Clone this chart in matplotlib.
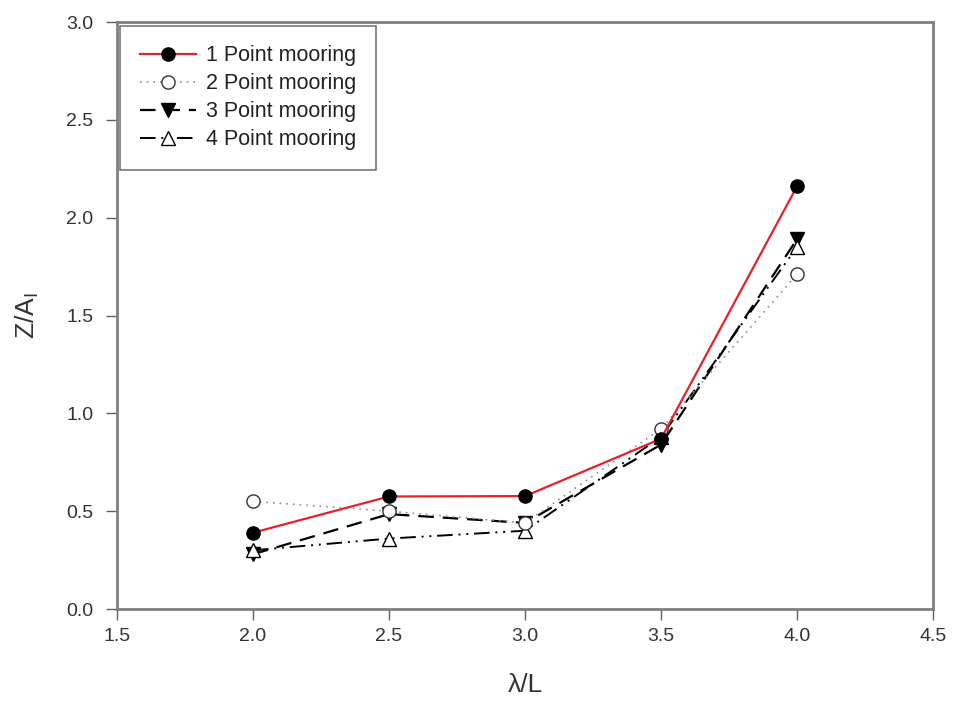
import matplotlib
matplotlib.use("Agg")
import matplotlib.pyplot as plt

plt.rcParams['font.family'] = ['Liberation Sans', 'DejaVu Sans']
plt.rcParams['mathtext.fontset'] = 'custom'
plt.rcParams['mathtext.rm'] = 'Liberation Sans'

x = [2.0, 2.5, 3.0, 3.5, 4.0]
p1 = [0.39, 0.575, 0.577, 0.87, 2.16]
p2 = [0.55, 0.50, 0.44, 0.92, 1.71]
p3 = [0.28, 0.485, 0.44, 0.84, 1.89]
p4 = [0.30, 0.36, 0.40, 0.88, 1.85]
labels = ['1 Point mooring', '2 Point mooring', '3 Point mooring', '4 Point mooring']
xticks = [1.5, 2.0, 2.5, 3.0, 3.5, 4.0, 4.5]
yticks = [0.0, 0.5, 1.0, 1.5, 2.0, 2.5, 3.0]

fig = plt.figure(figsize=(9.55, 7.17), dpi=100)
ax = fig.add_axes([117/955, 1 - 609/717, (933 - 117)/955, (609 - 22)/717])

ax.plot(x, p1, color='#e8202a', lw=1.6, marker='o', ms=9.5, mfc='black', mec='black', label=labels[0], zorder=5)
ax.plot(x, p2, color='#909090', lw=1.2, ls=(0, (1, 3)), marker='o', ms=9.5, mfc='white', mec='#333333', mew=1.0, label=labels[1], zorder=4)
ax.plot(x, p3, color='black', lw=1.6, ls=(0, (7, 4)), marker='v', ms=9.5, mfc='black', mec='black', label=labels[2], zorder=3)
ax.plot(x, p4, color='black', lw=1.4, ls=(0, (8, 3, 1, 3, 1, 3)), marker='^', ms=9.5, mfc='white', mec='black', mew=1.0, label=labels[3], zorder=3)

ax.set_xlim(1.5, 4.5)
ax.set_ylim(0.0, 3.0)
ax.set_xticks(xticks)
ax.set_yticks(yticks)
ax.set_xticklabels([f'{t:.1f}' for t in xticks])
ax.set_yticklabels([f'{t:.1f}' for t in yticks])
for s in ax.spines.values():
    s.set_color('#808080')
    s.set_linewidth(2)
ax.tick_params(direction='out', length=8, width=1, color='#606060', labelsize=14, labelcolor='#333333')
ax.tick_params(axis='y', pad=9)
ax.tick_params(axis='x', pad=6)

ax.set_xlabel('λ/L', fontsize=19, color='#333333', labelpad=20)
ax.set_ylabel(r'Z/A$_\mathregular{I}$', fontsize=19, color='#333333', labelpad=18)

leg = ax.legend(loc='upper left', bbox_to_anchor=(0.004, 0.993), fontsize=15.5, frameon=True, fancybox=False,
                edgecolor='#555555', handlelength=2.6, handletextpad=0.5, borderpad=0.9, labelspacing=0.32,
                borderaxespad=0)
leg.get_frame().set_linewidth(1.2)
for t in leg.get_texts():
    t.set_color('#222222')

fig.savefig('out.png', dpi=100, facecolor='white')
